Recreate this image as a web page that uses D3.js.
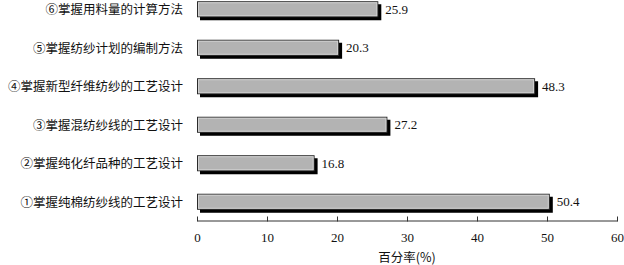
<!DOCTYPE html>
<html>
<head>
<meta charset="utf-8">
<script src="https://cdn.jsdelivr.net/npm/d3@7"></script>
<style>
  html, body { margin: 0; padding: 0; background: #fff; }
  svg { display: block; }
</style>
</head>
<body>
<div id="chart"></div>
<script>
(function () {
  'use strict';

  // ── Data ──
  var categories = [
    '⑥掌握用料量的计算方法',
    '⑤掌握纺纱计划的编制方法',
    '④掌握新型纤维纺纱的工艺设计',
    '③掌握混纺纱线的工艺设计',
    '②掌握纯化纤品种的工艺设计',
    '①掌握纯棉纺纱线的工艺设计'
  ];
  var values = [25.9, 20.3, 48.3, 27.2, 16.8, 50.4];
  var xTicks = [0, 10, 20, 30, 40, 50, 60];
  var xTitle = '百分率(%)';

  // ── Layout ──
  var WIDTH = 624;
  var HEIGHT = 265;
  var X0 = 197;
  var X1 = 617;
  var AXIS_Y = 220;
  var SHADOW = 3;
  var CJK_FONT = '"Noto Sans CJK SC", "Noto Sans", sans-serif';
  var NUM_FONT = '"Liberation Serif", "DejaVu Serif", serif';

  var svg = d3.select('#chart').append('svg')
    .attr('width', WIDTH)
    .attr('height', HEIGHT);

  var x = d3.scaleLinear().domain([0, 60]).range([X0, X1]);
  var y = d3.scaleBand()
    .domain(categories)
    .range([-10, 221])
    .paddingInner(0.584)
    .paddingOuter(0.292);

  var rows = categories.map(function (c, i) { return { name: c, value: values[i] }; });

  // shadows
  svg.append('g').selectAll('rect')
    .data(rows)
    .join('rect')
    .attr('x', x(0) + SHADOW)
    .attr('y', function (d) { return y(d.name) + SHADOW; })
    .attr('width', function (d) { return x(d.value) - x(0); })
    .attr('height', y.bandwidth())
    .attr('fill', '#000');

  // bars
  svg.append('g').selectAll('rect')
    .data(rows)
    .join('rect')
    .attr('x', x(0) + 0.5)
    .attr('y', function (d) { return y(d.name) + 0.5; })
    .attr('width', function (d) { return x(d.value) - x(0) - 1; })
    .attr('height', y.bandwidth() - 1)
    .attr('fill', '#b3b3b3')
    .attr('stroke', '#2a2a2a')
    .attr('stroke-width', 1);

  // inner highlight
  svg.append('g').selectAll('rect')
    .data(rows)
    .join('rect')
    .attr('x', x(0) + 1.5)
    .attr('y', function (d) { return y(d.name) + 1.5; })
    .attr('width', function (d) { return x(d.value) - x(0) - 3; })
    .attr('height', y.bandwidth() - 3)
    .attr('fill', 'none')
    .attr('stroke', '#d0d0d0')
    .attr('stroke-width', 1);

  // category labels
  svg.append('g').selectAll('text')
    .data(rows)
    .join('text')
    .attr('x', 183)
    .attr('y', function (d) { return y(d.name) + y.bandwidth() / 2; })
    .attr('dy', '0.38em')
    .attr('text-anchor', 'end')
    .attr('font-family', CJK_FONT)
    .attr('font-size', 12.5)
    .attr('fill', '#111')
    .text(function (d) { return d.name; });

  // value labels
  svg.append('g').selectAll('text')
    .data(rows)
    .join('text')
    .attr('x', function (d) { return x(d.value) + 7; })
    .attr('y', function (d) { return y(d.name) + y.bandwidth() / 2; })
    .attr('dy', '0.35em')
    .attr('font-family', NUM_FONT)
    .attr('font-size', 13)
    .attr('fill', '#111')
    .text(function (d) { return d.value.toFixed(1); });

  // x axis
  var axis = svg.append('g')
    .attr('transform', 'translate(0,' + (AXIS_Y + 0.5) + ')')
    .call(d3.axisBottom(x).tickValues(xTicks).tickSize(0).tickPadding(12));
  axis.select('.domain').attr('stroke', '#333');
  axis.selectAll('.tick line')
    .attr('y1', -4)
    .attr('y2', 1)
    .attr('stroke', '#333');
  axis.selectAll('.tick text')
    .attr('font-family', NUM_FONT)
    .attr('font-size', 13)
    .attr('fill', '#111');

  svg.append('text')
    .attr('x', (X0 + X1) / 2)
    .attr('y', 258)
    .attr('dy', '0.35em')
    .attr('text-anchor', 'middle')
    .attr('font-family', CJK_FONT)
    .attr('font-size', 12.5)
    .attr('fill', '#111')
    .text(xTitle);
})();
</script>
</body>
</html>
